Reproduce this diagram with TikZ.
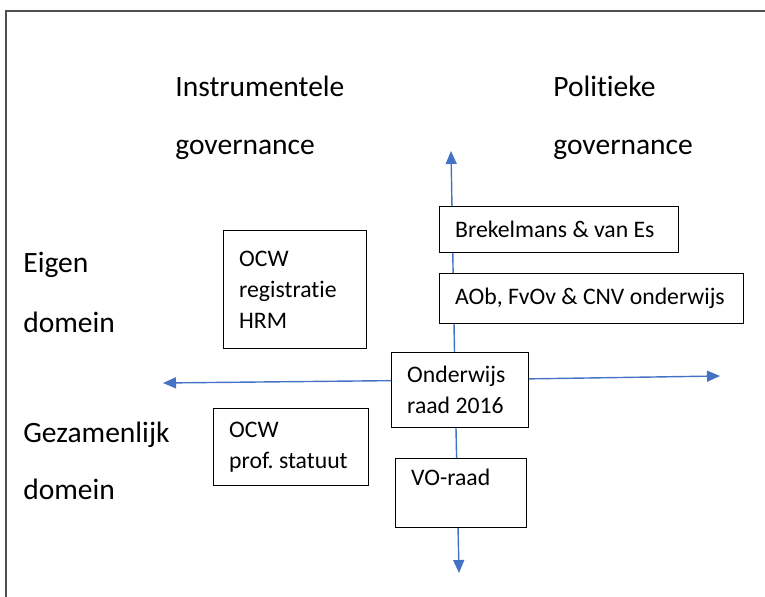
\documentclass[tikz,border=0pt]{standalone}
\usepackage{fontspec}
\setmainfont{Carlito}[Ligatures=NoCommon]
\usetikzlibrary{arrows.meta}

\definecolor{axisblue}{RGB}{68,114,196}
\definecolor{framegray}{RGB}{80,80,80}

\tikzset{
	axis/.style={draw=axisblue, line width=0.8pt, -{Triangle[length=2.6mm, width=2.2mm]}},
	headlabel/.style={anchor=base west, inner sep=0pt, font=\fontsize{16.8}{20}\selectfont},
	qbox/.style 2 args={draw, fill=white, line width=0.8pt, anchor=north west, align=flush left,
		inner xsep=0.31cm, inner ysep=0pt, text width=#1, minimum height=#2,
		font=\fontsize{13.5}{17.6}\selectfont\frenchspacing},
}

\begin{document}
\begin{tikzpicture}[x=0.02cm, y=-0.02cm]
			\useasboundingbox (0, 0) rectangle (765, 597);
			\draw[framegray, line width=1.1pt] (6, 597) -- (6, 11) -- (765, 11);

			% axes
			\coordinate (ytop) at (451, 151);
			\coordinate (ybot) at (459, 573);
			\coordinate (xleft) at (163, 383);
			\coordinate (xright) at (720, 376);
			\coordinate (origin) at (455, 380);
			\draw[axis] (origin) -- (ytop);
			\draw[axis] (origin) -- (ybot);
			\draw[axis] (origin) -- (xleft);
			\draw[axis] (origin) -- (xright);

			% headings
			\draw (175, 97) 	node[headlabel] 	(instr) 		{Instrumentele};
			\draw (175, 155) 	node[headlabel] 	(instr_gov) 	{governance};
			\draw (553, 97) 	node[headlabel] 	(polit) 		{Politieke};
			\draw (553, 155) 	node[headlabel] 	(polit_gov) 	{governance};
			\draw (23, 273) 	node[headlabel] 	(eigen) 		{Eigen};
			\draw (23, 333) 	node[headlabel] 	(eigen_dom) 	{domein};
			\draw (23, 443) 	node[headlabel] 	(gezam) 		{Gezamenlijk};
			\draw (23, 500) 	node[headlabel] 	(gezam_dom) 	{domein};

			% actors
			\draw (223, 230) 	node[qbox={2.24cm}{2.36cm}] 	(hrm) 		{OCW\\registratie\\HRM};
			\draw (439, 206) 	node[qbox={4.16cm}{0.92cm}] 	(brek) 		{Brekelmans \& van Es};
			\draw (439, 273) 	node[qbox={5.46cm}{1.0cm}] 		(aob) 		{AOb, FvOv \& CNV onderwijs};
			\draw (391, 352) 	node[qbox={2.12cm}{1.5cm}] 		(oraad) 	{Onderwijs\\raad 2016};
			\draw (213, 408) 	node[qbox={2.48cm}{1.54cm}] 	(prof) 		{OCW\\prof. statuut};
			\draw (395, 458) 	node[qbox={2.0cm}{1.38cm}] 		(voraad) 	{VO-raad\\~};
\end{tikzpicture}
\end{document}
